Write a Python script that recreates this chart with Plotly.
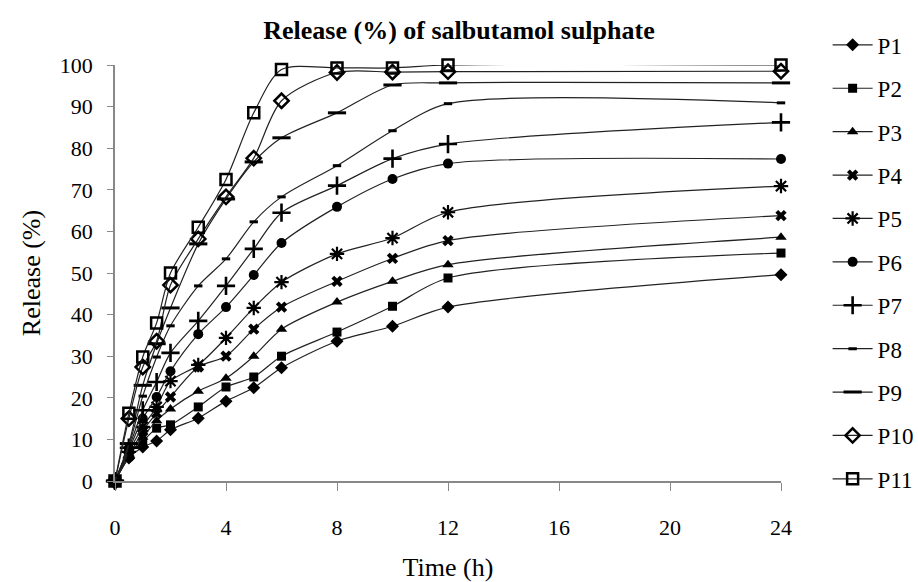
import plotly.graph_objects as go

time_h = [0, 0.5, 1, 1.5, 2, 3, 4, 5, 6, 8, 10, 12, 24]

P1 = [0, 5.5, 8.2, 9.6, 12.3, 15.1, 19.2, 22.4, 27.2, 33.6, 37.2, 41.8, 49.6]
P2 = [0, 6.5, 9.5, 12.7, 13.5, 17.8, 22.6, 25.0, 30.0, 35.8, 42.0, 48.8, 54.8]
P3 = [0, 6.0, 10.5, 14.5, 17.3, 21.6, 24.7, 30.0, 36.5, 43.0, 48.0, 52.0, 58.6]
P4 = [0, 6.0, 12.0, 16.3, 20.2, 27.4, 30.0, 36.5, 41.8, 48.0, 53.5, 57.8, 63.8]
P5 = [0, 7.0, 13.0, 17.8, 24.0, 27.9, 34.4, 41.6, 47.8, 54.6, 58.4, 64.6, 70.9]
P6 = [0, 7.5, 15.0, 20.2, 26.4, 35.3, 41.8, 49.5, 57.2, 65.9, 72.6, 76.3, 77.4]
P7 = [0, 8.0, 17.0, 23.8, 30.8, 38.5, 46.9, 55.8, 64.5, 71.0, 77.5, 81.0, 86.2]
P8 = [0, 8.5, 20.4, 29.8, 37.3, 46.9, 53.4, 62.3, 68.3, 75.8, 84.2, 90.7, 90.9]
P9 = [0, 9.0, 23.0, 33.0, 41.6, 57.0, 67.8, 76.7, 82.5, 88.5, 95.2, 95.7, 95.7]
P10 = [0, 15.0, 27.4, 33.6, 47.1, 58.2, 68.3, 77.6, 91.4, 98.2, 98.3, 98.4, 98.5]
P11 = [0, 16.3, 29.8, 38.0, 50.0, 61.0, 72.5, 88.5, 98.9, 99.3, 99.3, 100.0, 100.0]

series_names = ["P1", "P2", "P3", "P4", "P5", "P6", "P7", "P8", "P9", "P10", "P11"]
series_values = [P1, P2, P3, P4, P5, P6, P7, P8, P9, P10, P11]

x_ticks = [0, 4, 8, 12, 16, 20, 24]
y_ticks = [0, 10, 20, 30, 40, 50, 60, 70, 80, 90, 100]

marker_styles = {
    "P1": dict(symbol="diamond", size=10, color="black", line=dict(width=0)),
    "P2": dict(symbol="square", size=9, color="black", line=dict(width=0)),
    "P3": dict(symbol="triangle-up", size=10, color="black", line=dict(width=0)),
    "P4": dict(symbol="x", size=10, color="black", line=dict(width=0)),
    "P5": dict(symbol="asterisk-open", size=12, color="black", line=dict(width=2.2, color="black")),
    "P6": dict(symbol="circle", size=10, color="black", line=dict(width=0)),
    "P7": dict(symbol="cross-thin-open", size=13, color="black", line=dict(width=2.6, color="black")),
    "P8": dict(symbol="line-ew-open", size=6, color="black", line=dict(width=3, color="black")),
    "P9": dict(symbol="line-ew-open", size=13, color="black", line=dict(width=3, color="black")),
    "P10": dict(symbol="diamond-open", size=11, color="black", line=dict(width=2.5, color="black")),
    "P11": dict(symbol="square-open", size=11, color="black", line=dict(width=2.5, color="black")),
}

fig = go.Figure()
for name, vals in zip(series_names, series_values):
    fig.add_trace(go.Scatter(
        x=time_h, y=vals, name=name, mode="lines+markers",
        line=dict(color="#222222", width=1.2, shape="spline", smoothing=0.8),
        marker=marker_styles[name], cliponaxis=False, legendgroup=name,
    ))

font_family = "Liberation Serif"
fig.update_layout(
    width=918, height=582,
    margin=dict(l=115, r=137, t=65, b=101, autoexpand=False),
    paper_bgcolor="white", plot_bgcolor="white",
    font=dict(family=font_family, size=22, color="black"),
    title=dict(text="<b>Release (%) of salbutamol sulphate</b>", x=0.5, xanchor="center",
               y=0.948, yanchor="middle", font=dict(size=26, family=font_family)),
    showlegend=True,
    legend=dict(x=1.07, xanchor="left", y=1.1, yanchor="top",
                font=dict(size=23, family=font_family), tracegroupgap=10.5,
                bgcolor="rgba(0,0,0,0)", itemwidth=40, maxheight=582),
    xaxis=dict(range=[0, 24], tickvals=x_ticks, ticks="outside", ticklen=8,
               tickcolor="#888888", showline=True, linecolor="#888888", linewidth=1.5,
               showgrid=False, zeroline=False, ticklabelstandoff=18,
               title=dict(text="Time (h)", standoff=22)),
    yaxis=dict(range=[0, 100], tickvals=y_ticks, ticks="outside", ticklen=6,
               tickcolor="#888888", showline=True, linecolor="#888888", linewidth=1.5,
               showgrid=False, zeroline=False, ticklabelstandoff=10,
               title=dict(text="Release (%)", standoff=12)),
)

fig.write_html("out.html")
